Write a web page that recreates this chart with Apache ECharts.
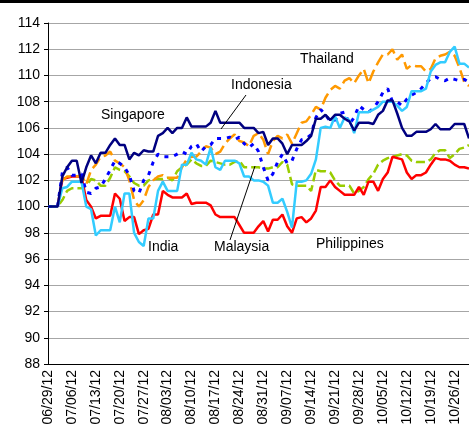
<!DOCTYPE html>
<html>
<head>
<meta charset="utf-8">
<script src="https://cdn.jsdelivr.net/npm/echarts@6/dist/echarts.min.js"></script>
<style>
  html, body { margin: 0; padding: 0; overflow: hidden; background: #fff; }
  #chart-container { width: 469px; height: 460px; }
  #topbar { position: absolute; left: 0; top: 0; width: 469px; height: 3px; background: #000; z-index: 5; }
</style>
</head>
<body>
<div id="topbar"></div>
<div id="chart-container"></div>
<script>
// business days from 06/29/12 onward
var dates = [];
(function () {
  var d = new Date(2012, 5, 29);
  while (dates.length < 89) {
    var wd = d.getDay();
    if (wd !== 0 && wd !== 6) {
      var mm = ('0' + (d.getMonth() + 1)).slice(-2);
      var dd = ('0' + d.getDate()).slice(-2);
      dates.push(mm + '/' + dd + '/12');
    }
    d.setDate(d.getDate() + 1);
  }
})();

var singapore = [100,100,100,102.3,103,103.5,103.5,101.8,103,103.9,103.3,104.1,104.1,104.7,105.2,104.7,104.7,103.6,104.1,103.9,104.3,104.2,104.2,105.4,105.6,106,105.6,106,106,106.8,106.1,106.1,106.1,106.1,106.4,107.3,106.4,106.4,106.4,106.4,106.4,106,106,106,105.6,105.7,104.7,105.2,105.2,104.8,104,104.7,104.7,104.7,105,105.4,106.7,106.7,107,106.6,107,107,106.7,106.5,105.8,106.4,106.4,106.4,106.3,107,107.3,108.1,108.1,107.1,106,105.4,105.4,105.7,105.7,105.7,105.9,106.3,105.9,105.9,105.9,106.3,106.3,106.3,105.2];
var thailand = [100,100,100,102,102.3,102.3,102.3,102.4,101.7,102.8,103.2,103.8,103.9,104.2,103.5,103.3,103,102,100.5,100,100.5,101.5,102,102.3,102.4,102.2,102.2,102.2,103,103.6,103.8,103.8,104.2,104.6,104.5,104,104.2,104.8,105.2,105.5,105,104.9,104.6,105.4,105.6,105.1,104,105,105.4,105.2,105.5,104.8,105.6,106.4,106.5,107,107.6,107.4,108.3,108.9,109.2,109,109.6,109.8,109.4,110,110.5,109.4,110.3,111,111.6,111.6,112,111.2,111.6,110.5,110.8,110.7,110.7,110.3,110.5,111.3,111.5,111.6,111.8,111.5,110.6,109.5,109.2];
var india = [100,100,100,101.4,101.5,101.9,101.9,101.9,100,99.8,97.8,98.2,98.2,98.2,100,98.8,101,101,98,97.3,97,99.1,99.1,101.2,101.9,101.2,101.2,101.2,103.2,103.2,104.1,103.6,103.5,103.2,104.5,103,102.8,103.5,103.5,103.5,103.3,102.3,102.3,102,102,101.9,101.6,100.3,100.3,100.6,99.6,98.4,101.9,101.9,102,102.5,103.6,106,106.1,106,106.9,106,106.8,106.6,105.6,107.2,107.2,107.2,107.4,107.6,108,108,108,107.7,107.3,107.6,108.8,108.8,108.8,109,110.3,110.8,111,111,111.8,112.2,110.9,110.9,110.6];
var indonesia = [100,100,100,102.6,103,102.4,102.4,102.5,101.1,101,101.4,101.5,102.1,102.8,103.5,103.3,103,102.4,101.2,101,102,102.4,103.4,104,103.8,103.8,103.8,104,104.2,104,104.6,104.8,104.2,104.6,104.7,105.2,105.2,105.2,105.3,105.1,105.3,104.8,104.5,104.8,104.2,103,102,102.5,103.4,104,103.3,103.5,104.4,105.1,105.2,105.5,106.8,107.4,107,106.5,106.6,107.1,107.2,106.3,106.8,107.7,107.4,107.2,107.5,108,108.7,109,108,108,107.7,108.2,108.5,108.7,109,109.4,109.8,109.9,109.7,109.6,109.8,109.7,109.6,109.7,109.5];
var malaysia = [100,100,100,100.5,101.2,101.4,101.4,101.4,101.6,102.1,102,101.6,101.6,102.2,103,102.8,102.7,102.3,101.8,101.6,101.6,102,102.1,102.1,102.1,102.2,102,102.7,103,103.2,103.6,103.3,103.1,103.1,103.5,103.4,103.3,103.2,103.2,103.4,103.5,103,103,103,103,102.9,102.9,103,103,103.4,103.2,101.7,101.6,101.6,101.6,101.2,102.8,102.7,102.7,102.6,102,101.6,101.6,101.6,101,101.2,101.5,102.1,102.5,103.2,103.5,103.7,103.8,103.9,104,103.9,103.5,103.4,103.4,103.4,103.6,104.1,104.3,104.3,103.7,104,104.4,104.5,104.7];
var philippines = [100,100,100,102.1,102.2,102.3,102.3,102.3,100.5,100,99.1,99.3,99.3,99.3,101,100.6,98.9,99.2,99.2,97.9,98.2,98.3,99.4,99.4,101.2,100.9,100.7,100.7,100.7,101,100.2,100.3,100.3,100.3,100.1,99.4,99.2,99.2,99.2,99.2,98.6,98,98,98,98.5,98.9,98.1,99,99,99.4,98.5,98,99.1,99.2,98.8,99.1,99.7,101.5,101.5,102,101.5,101.2,100.9,100.9,100.9,101.5,100.9,101.9,101.9,101.2,102.1,102.6,103.8,103.7,103.6,102.6,102.1,102.4,102.4,102.6,103.2,103.7,103.6,103.6,103.5,103.2,103,103,102.9];

var dom = document.getElementById('chart-container');
var myChart = echarts.init(dom, null, { renderer: 'canvas' });

function line(name, data, color, type, width) {
  return {
    name: name, type: 'line', data: data, symbol: 'none',
    lineStyle: { color: color, width: width || 2.5, type: type },
    z: 3
  };
}

var font = 'Liberation Sans, Arial, sans-serif';
var option = {
  animation: false,
  textStyle: { fontFamily: font },
  grid: { left: 48, right: 0, top: 23, bottom: 96, containLabel: false },
  xAxis: {
    type: 'category', data: dates, boundaryGap: false,
    axisLine: { lineStyle: { color: '#000' } },
    axisTick: { show: false },
    axisLabel: {
      rotate: 90, interval: 4, color: '#000', fontSize: 14, fontFamily: font, margin: 6
    }
  },
  yAxis: {
    type: 'value', min: 88, max: 114, interval: 2,
    axisLine: { show: true, lineStyle: { color: '#000' } },
    axisTick: { show: true, length: 4, lineStyle: { color: '#000' } },
    axisLabel: { color: '#000', fontSize: 14, fontFamily: font, margin: 8 },
    splitLine: { lineStyle: { color: '#a6a6a6' } }
  },
  series: [
    line('Malaysia', malaysia, '#99cc00', [9, 4]),
    line('Philippines', philippines, '#ff0000', 'solid'),
    line('Thailand', thailand, '#ff9900', [12, 5]),
    line('Indonesia', indonesia, '#0000ff', [4, 6], 3),
    line('India', india, '#33ccff', 'solid'),
    line('Singapore', singapore, '#000080', 'solid')
  ],
  graphic: [
    { type: 'text', left: 101, top: 108, style: { text: 'Singapore', fontSize: 14, fontFamily: font, fill: '#000' } },
    { type: 'text', left: 231, top: 78, style: { text: 'Indonesia', fontSize: 14, fontFamily: font, fill: '#000' } },
    { type: 'text', left: 300, top: 52, style: { text: 'Thailand', fontSize: 14, fontFamily: font, fill: '#000' } },
    { type: 'text', left: 148, top: 240, style: { text: 'India', fontSize: 14, fontFamily: font, fill: '#000' } },
    { type: 'text', left: 214, top: 240, style: { text: 'Malaysia', fontSize: 14, fontFamily: font, fill: '#000' } },
    { type: 'text', left: 316, top: 237, style: { text: 'Philippines', fontSize: 14, fontFamily: font, fill: '#000' } },
    { type: 'line', shape: { x1: 246, y1: 95, x2: 221, y2: 129 }, style: { stroke: '#000', lineWidth: 1 }, z: 10 },
    { type: 'line', shape: { x1: 230, y1: 240, x2: 255, y2: 166 }, style: { stroke: '#000', lineWidth: 1 }, z: 10 }
  ]
};

myChart.setOption(option);
window.addEventListener('resize', myChart.resize);
</script>
</body>
</html>
